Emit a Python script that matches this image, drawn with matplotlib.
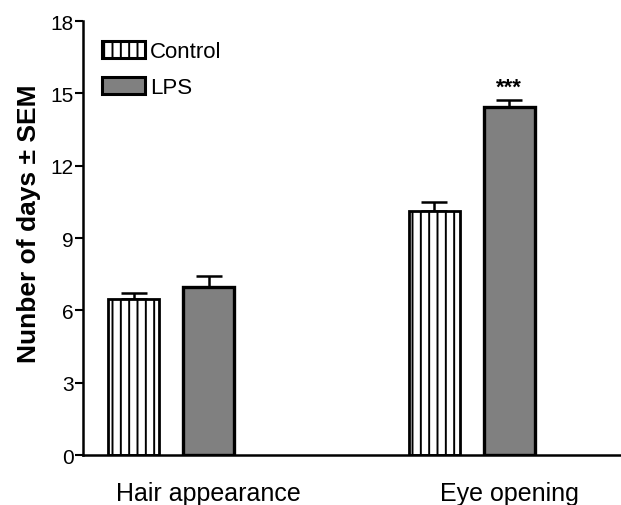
import numpy as np
import matplotlib
matplotlib.use('Agg')
from matplotlib import pyplot as plt
from matplotlib.patches import Patch

# data
categories = ['Hair appearance', 'Eye opening']
control = [6.47, 10.14]
control_sem = [0.25, 0.35]
lps = [6.96, 14.45]
lps_sem = [0.48, 0.27]
yticks = [0, 3, 6, 9, 12, 15, 18]

lps_grey = '#808080'

plt.rcParams['font.family'] = 'Liberation Sans'
plt.rcParams['hatch.linewidth'] = 1.4
plt.rcParams['hatch.color'] = 'black'

fig = plt.figure(figsize=(6.21, 5.06), dpi=100)
ax = fig.add_axes([0.1337, 0.0988, 0.8663, 0.8577])

x = np.arange(len(categories))
off = 0.125
w = 0.17

ax.bar(x - off, control, w, color='white', edgecolor='black', linewidth=2,
       hatch='||', zorder=2)
ax.bar(x + off, lps, w, color=lps_grey, edgecolor='black', linewidth=2.4, zorder=2)
ax.errorbar(x - off, control, yerr=[np.zeros(len(x)), control_sem], fmt='none',
            ecolor='black', elinewidth=1.8, capsize=9.4, capthick=1.8, zorder=1)
ax.errorbar(x + off, lps, yerr=[np.zeros(len(x)), lps_sem], fmt='none',
            ecolor='black', elinewidth=1.8, capsize=9.4, capthick=1.8, zorder=1)

# significance mark
ax.text(x[1] + off, lps[1] + lps_sem[1] + 0.55, '***', ha='center', va='center',
        fontsize=16, fontweight='bold')

ax.set_xlim(-0.293, 1.497)
ax.set_ylim(0, 18)
ax.set_yticks(yticks)
# category labels sit roughly over the LPS bars in the original
ax.set_xticks(x + off)
ax.set_xticklabels(categories, fontsize=18)
ax.tick_params(axis='x', length=0, pad=19)
ax.tick_params(axis='y', length=5.5, width=1.5, labelsize=15, pad=1)
ax.spines['top'].set_visible(False)
ax.spines['right'].set_visible(False)
ax.spines['left'].set_linewidth(1.8)
ax.spines['bottom'].set_linewidth(1.8)
ax.set_ylabel('Nunber of days \u00b1 SEM', fontsize=19, fontweight='bold')
ax.yaxis.set_label_coords(-0.078, 0.535)

handles = [Patch(facecolor='white', edgecolor='black', linewidth=2.2, hatch='||', label='Control'),
           Patch(facecolor=lps_grey, edgecolor='black', linewidth=2.2, label='LPS')]
ax.legend(handles=handles, loc='upper left', bbox_to_anchor=(0.036, 0.955), frameon=False,
          fontsize=16, handlelength=1.9, handleheight=0.8, handletextpad=0.25,
          labelspacing=0.68, borderaxespad=0, borderpad=0)

fig.savefig('out.png', dpi=100)
